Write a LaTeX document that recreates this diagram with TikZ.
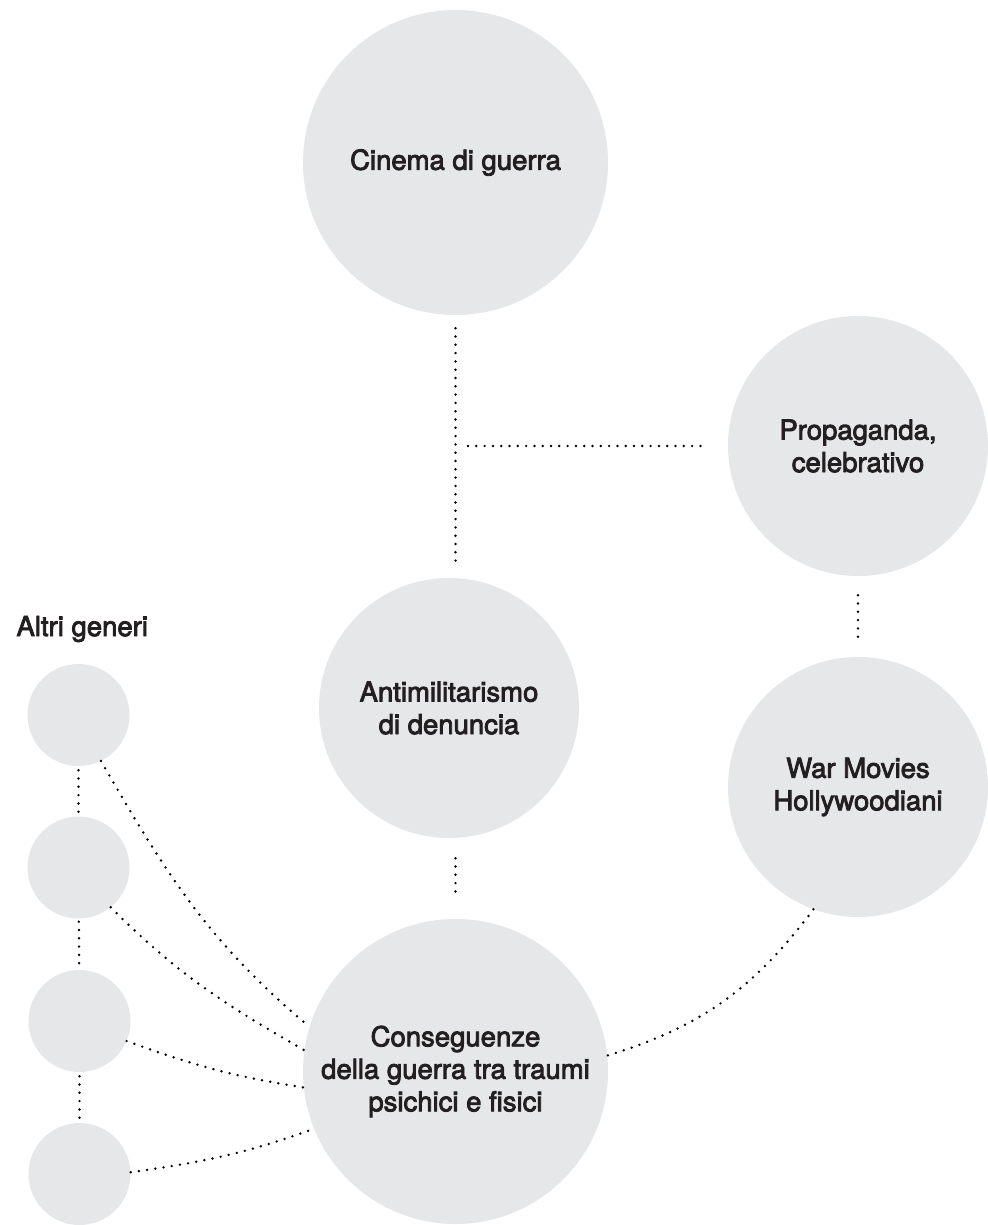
\documentclass[tikz,border=0pt]{standalone}
\usepackage{fontspec}
\setmainfont{TeX Gyre Heros}[FakeBold=3]
\definecolor{circlegray}{HTML}{E6E7E8}
\definecolor{textdark}{HTML}{231F20}

\begin{document}
\begin{tikzpicture}[
      x=1pt, y=1pt,
      genre/.style={
          circle, fill=circlegray, draw=none,
          inner sep=0pt, align=center,
          text=textdark, font=\fontsize{27.5}{32.5}\selectfont
      },
      bigcircle/.style={genre, minimum size=305pt},
      midcircle/.style={genre, minimum size=260pt},
      smallcircle/.style={genre, minimum size=102pt},
      dotline/.style={
          line width=2.7pt, line cap=round,
          dash pattern=on 0pt off 8.3pt
      }
  ]
    \useasboundingbox (0,0) rectangle (987,-1225);

    % (a) Cinema di guerra (top)
    \node[bigcircle] (cinema) at (455.5,-162.5) {Cinema di guerra};

    % (b) Propaganda (right of the fork)
    \node[midcircle] (prop) at (858,-446) {Propaganda,\\celebrativo};

    % (c) Antimilitarismo (below (a))
    \node[midcircle] (anti) at (449,-708) {Antimilitarismo\\di denuncia};

    % (d) War movies (below (b))
    \node[midcircle] (war) at (858,-787) {War Movies\\Hollywoodiani};

    % (e) Conseguenze (below (c))
    \node[bigcircle] (cons) at (455.5,-1071.5)
        {Conseguenze\\della guerra tra traumi\\psichici e fisici};

    % (f) Altri generi (left column)
    \node[anchor=west, text=textdark, font=\fontsize{27.5}{32.5}\selectfont]
        (altri) at (13,-629) {Altri generi};
    \node[smallcircle] (g1) at (78.5,-715) {};
    \node[smallcircle] (g2) at (78.5,-867.5) {};
    \node[smallcircle] (g3) at (79.5,-1021) {};
    \node[smallcircle] (g4) at (79.5,-1174) {};

    % Edges
    \coordinate (fork) at (cinema.south |- prop.west);
    \draw[dotline, shorten <=13pt, shorten >=17pt] (cinema.south) -- (cinema.south |- anti.north);
    \draw[dotline, shorten <=12.5pt, shorten >=20pt] (fork) -- (prop.west);
    \draw[dotline, shorten <=19pt, shorten >=20pt] (prop.south) -- (war.north);
    \draw[dotline, shorten <=20pt, shorten >=20pt] (cons.north |- anti.south) -- (cons.north);
    \draw[dotline] (war.250) to[out=233, in=17] (cons.6);

    \draw[dotline, shorten <=4pt, shorten >=4pt] (g1) -- (g2);
    \draw[dotline, shorten <=3pt, shorten >=3pt] (g2) -- (g3);
    \draw[dotline, shorten <=4pt, shorten >=4pt] (g3) -- (g4);

    \draw[dotline] (g1.-64) to[out=-60, in=140] (cons.163);
    \draw[dotline] (g2.-51) to[out=-45, in=150] (cons.172);
    \draw[dotline] (g3.-23) to[out=-20, in=171] (cons.186);
    \draw[dotline] (g4.2) to[out=8, in=200] (cons.202);
  \end{tikzpicture}
\end{document}
